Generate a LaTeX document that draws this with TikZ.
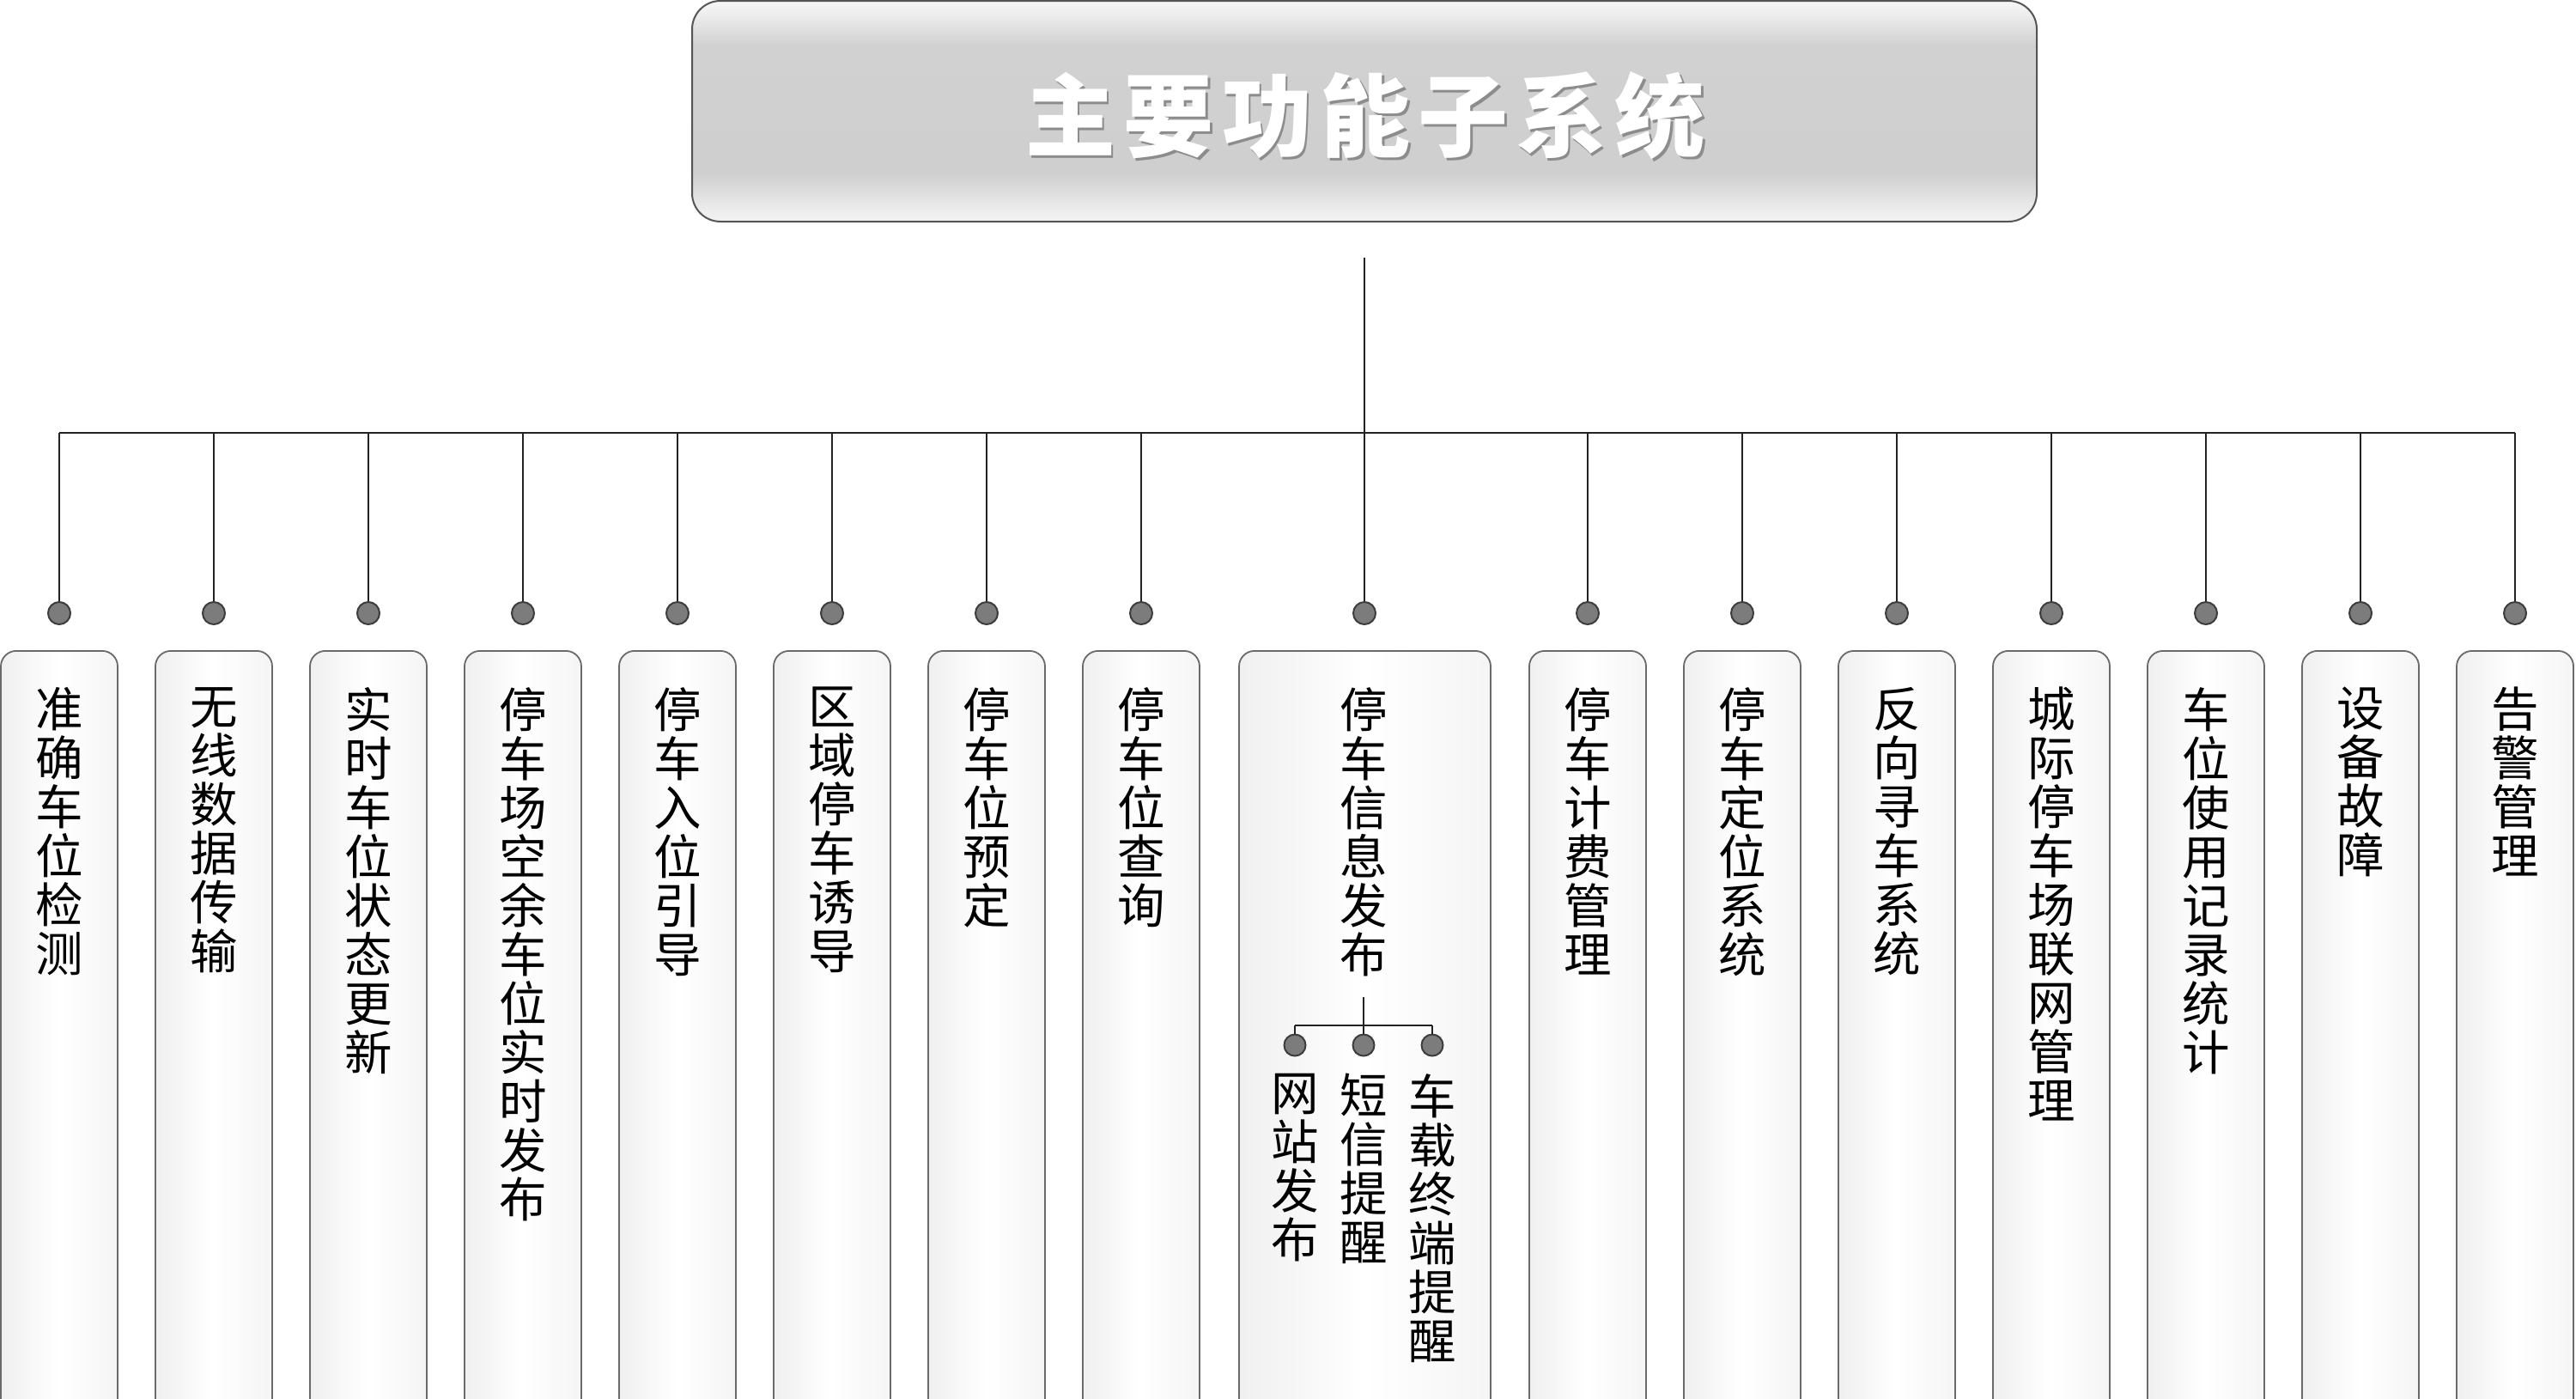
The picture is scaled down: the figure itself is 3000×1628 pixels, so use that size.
\documentclass[tikz,border=0pt]{standalone}
\usepackage{fontspec}
\newfontfamily\cjk{Noto Sans CJK SC}
\usetikzlibrary{calc}
\definecolor{linec}{HTML}{222222}
\definecolor{dotfill}{HTML}{7C7C7C}
\definecolor{dotdraw}{HTML}{3C3C3C}
\definecolor{boxdraw}{HTML}{6A6A6A}
\definecolor{tdraw}{HTML}{555555}
\pgfdeclareverticalshading{titleshade}{100bp}{%
  color(0bp)=(white!95!black); color(25bp)=(white!95!black);
  color(27.5bp)=(white!93!black); color(36bp)=(white!81!black);
  color(65bp)=(white!82!black); color(72bp)=(white!93!black);
  color(75bp)=(white!97!black); color(100bp)=(white!97!black)}
\tikzset{
  conn/.style={draw=linec, line width=2.4pt},
  hubdot/.style={circle, draw=dotdraw, fill=dotfill, line width=2pt, minimum size=26pt, inner sep=0pt},
  colbox/.style={draw=boxdraw, line width=1.8pt, rounded corners=18pt, minimum height=900pt,
     anchor=north, inner sep=0pt, left color=black!6, right color=black!4, middle color=white},
  coltext/.style={anchor=north, inner sep=0pt, align=center, text=black,
     font={\cjk\fontsize{55.5}{57}\selectfont}},
  titlebox/.style={draw=tdraw, line width=2pt, rounded corners=33pt, shading=titleshade,
     minimum width=1566pt, minimum height=257pt, inner sep=0pt},
  titlefont/.style={font={\cjk\bfseries\fontsize{105}{110}\selectfont\addfontfeature{LetterSpace=9}}},
}
\begin{document}
\begin{tikzpicture}[x=1pt,y=-1pt]
\useasboundingbox (0,0) rectangle (3000,1628);
\clip (0,0) rectangle (3000,1628);
\fill[white] (0,0) rectangle (3000,1628);

% title
\node[titlebox] (title) at (1589,129.5) {};
\node[titlefont, text=black!45] (titleshadow) at (1592.5,137.5) {主要功能子系统};
\node[titlefont, text=white] (titletext) at (1590,134) {主要功能子系统};

% bus
\coordinate (stem) at (1589,300);
\coordinate (bus) at (1589,504);
\draw[conn] (stem) -- (bus);

% columns
\foreach \i/\x/\t in {
  1/69/{准\\确\\车\\位\\检\\测},
  2/249/{无\\线\\数\\据\\传\\输},
  3/429/{实\\时\\车\\位\\状\\态\\更\\新},
  4/609/{停\\车\\场\\空\\余\\车\\位\\实\\时\\发\\布},
  5/789/{停\\车\\入\\位\\引\\导},
  6/969/{区\\域\\停\\车\\诱\\导},
  7/1149/{停\\车\\位\\预\\定},
  8/1329/{停\\车\\位\\查\\询},
  10/1849/{停\\车\\计\\费\\管\\理},
  11/2029/{停\\车\\定\\位\\系\\统},
  12/2209/{反\\向\\寻\\车\\系\\统},
  13/2389/{城\\际\\停\\车\\场\\联\\网\\管\\理},
  14/2569/{车\\位\\使\\用\\记\\录\\统\\计},
  15/2749/{设\\备\\故\\障},
  16/2929/{告\\警\\管\\理}}{
  \node[colbox, minimum width=136pt] (b\i) at (\x,757) {};
  \node[coltext] (t\i) at (\x,800) {\t};
  \node[hubdot] (d\i) at (\x,714) {};
  \draw[conn] (d\i.north) -- (d\i.north |- bus);
}
% middle column
\node[colbox, minimum width=293pt] (b9) at (1589.5,757) {};
\node[coltext] (t9) at (1588,800) {停\\车\\信\\息\\发\\布};
\node[hubdot] (d9) at (1589,714) {};
\draw[conn] (d9.north) -- (bus);
\draw[conn] (d1.north |- bus) -- (d16.north |- bus);

% sub branch
\coordinate (substem) at (1588,1161);
\coordinate (subbus) at (1588,1194);
\draw[conn] (substem) -- (subbus);
\foreach \j/\x/\t in {a/1508/{网\\站\\发\\布}, b/1588/{短\\信\\提\\醒}, c/1668/{车\\载\\终\\端\\提\\醒}}{
  \node[hubdot, minimum size=25pt] (s\j) at (\x,1217) {};
  \node[coltext] (st\j) at (\x,1250) {\t};
}
\draw[conn] (sa.north |- subbus) -- (sc.north |- subbus);
\draw[conn] (sa.north) -- (sa.north |- subbus);
\draw[conn] (sb.north) -- (sb.north |- subbus);
\draw[conn] (sc.north) -- (sc.north |- subbus);
\end{tikzpicture}
\end{document}
